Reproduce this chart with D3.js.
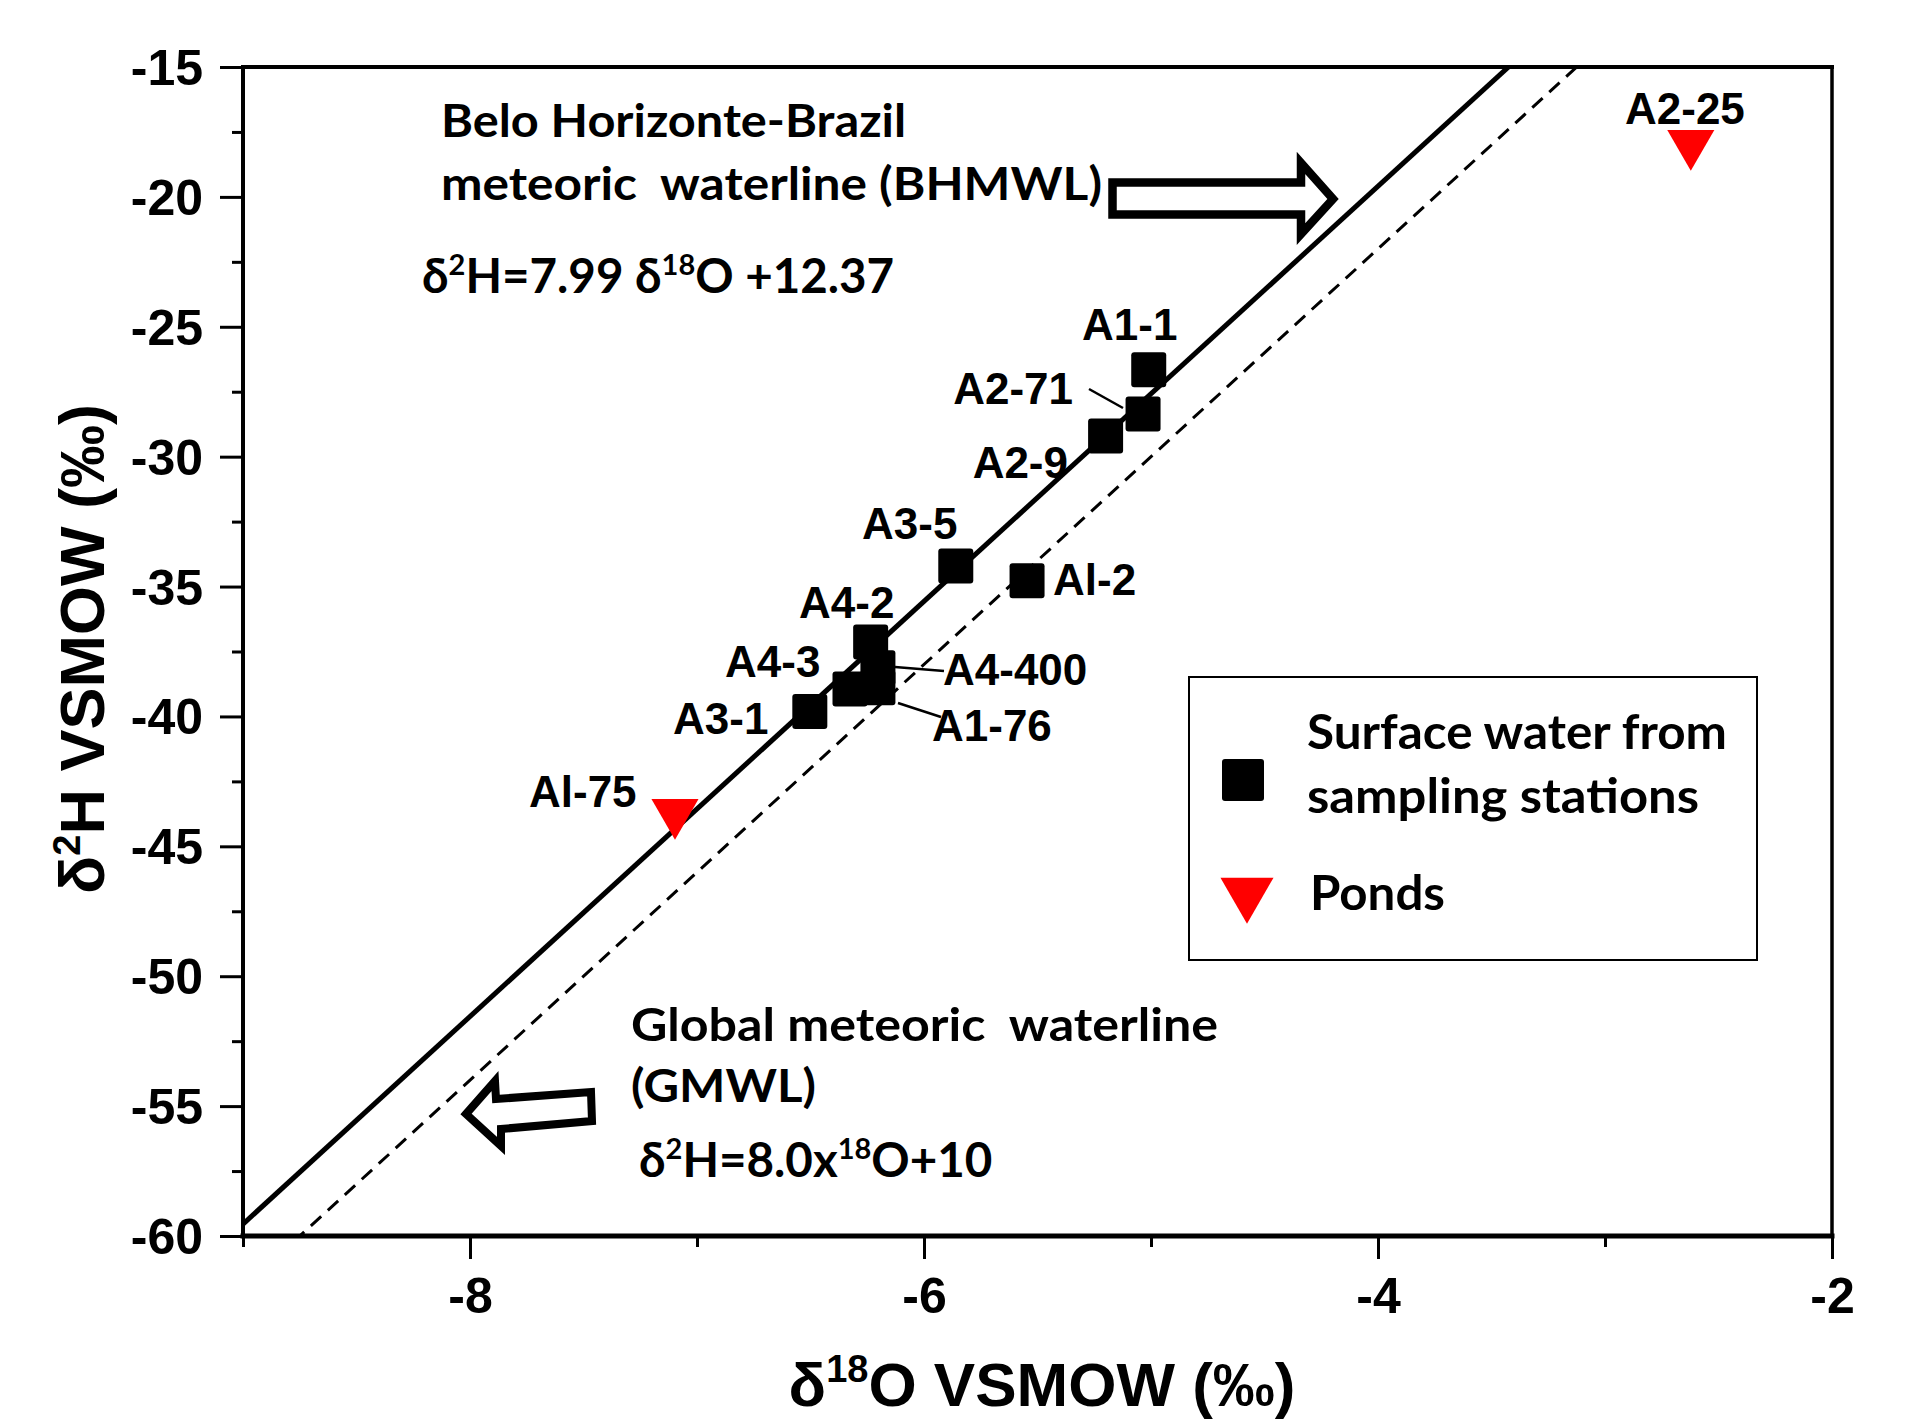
<!DOCTYPE html>
<html><head><meta charset="utf-8">
<script src="https://cdn.jsdelivr.net/npm/d3@7"></script>
<style>
html,body{margin:0;padding:0;background:#fff;}
svg{display:block;}
</style></head>
<body>
<svg id="chart" width="1909" height="1422"></svg>
<script>
// ---- data ----
const stationNames = ["A1-1","A2-71","A2-9","A3-5","Al-2","A4-2","A4-400","A4-3","A1-76","A3-1"];
const stationD18O  = [-5.01,-5.035,-5.20,-5.86,-5.546,-6.235,-6.203,-6.326,-6.203,-6.503];
const stationD2H   = [-26.65,-28.36,-29.2,-34.21,-34.78,-37.13,-38.13,-38.94,-38.90,-39.81];
const pondNames = ["Al-75","A2-25"];
const pondD18O  = [-7.097,-2.622];
const pondD2H   = [-43.70,-17.95];
const xTicks = [-8,-6,-4,-2];
const xMinorTicks = [-9,-7,-5,-3];
const yTicks = [-15,-20,-25,-30,-35,-40,-45,-50,-55,-60];
const yMinorTicks = [-17.5,-22.5,-27.5,-32.5,-37.5,-42.5,-47.5,-52.5,-57.5];
const bhmwl = {slope:7.99, intercept:12.37};
const gmwl  = {slope:8.0,  intercept:10};

// ---- layout ----
const svg = d3.select("#chart");
const L = 243, R = 1832, T = 67, B = 1236;
const x = d3.scaleLinear().domain([-9,-2]).range([L,R]);
const y = d3.scaleLinear().domain([-60,-15]).range([B,T]);
const ARIAL = "'Liberation Sans', Arial, sans-serif";
const CAL = "Lato, 'Open Sans', sans-serif";
const fmt = d => String(d);   // plain hyphen-minus like the original

// clip for lines
svg.append("clipPath").attr("id","plotclip").append("rect")
  .attr("x",L).attr("y",T).attr("width",R-L).attr("height",B-T);

// meteoric water lines
function lineFor(p){
  const x0 = -9, x1 = -2;
  return d3.line()([[x(x0), y(p.slope*x0+p.intercept)],[x(x1), y(p.slope*x1+p.intercept)]]);
}
svg.append("path").attr("d",lineFor(gmwl)).attr("clip-path","url(#plotclip)")
  .attr("stroke","#000").attr("stroke-width",3).attr("stroke-dasharray","14,9").attr("fill","none");
svg.append("path").attr("d",lineFor(bhmwl)).attr("clip-path","url(#plotclip)")
  .attr("stroke","#000").attr("stroke-width",5).attr("fill","none");

// axes
const xAxis = d3.axisBottom(x).tickValues(xTicks).tickSize(23).tickFormat(fmt);
const xMinor = d3.axisBottom(x).tickValues(xMinorTicks).tickSize(11).tickFormat("");
const yAxis = d3.axisLeft(y).tickValues(yTicks).tickSize(23).tickFormat(fmt);
const yMinor = d3.axisLeft(y).tickValues(yMinorTicks).tickSize(11).tickFormat("");

function styleAxis(g){
  g.select(".domain").remove();
  g.selectAll(".tick line").attr("stroke","#000").attr("stroke-width",3);
  g.selectAll(".tick text").attr("fill","#000").attr("font-family",ARIAL)
    .attr("font-weight","bold").attr("font-size",50);
}
const gx = svg.append("g").attr("transform",`translate(0,${B})`).call(xAxis).call(styleAxis);
gx.selectAll(".tick text").attr("y",null).attr("dy",null).attr("transform","translate(0,77)");
svg.append("g").attr("transform",`translate(0,${B})`).call(xMinor).call(styleAxis);
const gy = svg.append("g").attr("transform",`translate(${L},0)`).call(yAxis).call(styleAxis);
gy.selectAll(".tick text").attr("x",-40).attr("dy","0.35em");
svg.append("g").attr("transform",`translate(${L},0)`).call(yMinor).call(styleAxis);

// frame
svg.append("line").attr("x1",L).attr("x2",R).attr("y1",T).attr("y2",T).attr("stroke","#000").attr("stroke-width",4).attr("stroke-linecap","square");
svg.append("line").attr("x1",R).attr("x2",R).attr("y1",T).attr("y2",B).attr("stroke","#000").attr("stroke-width",3.5).attr("stroke-linecap","square");
svg.append("line").attr("x1",L).attr("x2",L).attr("y1",T).attr("y2",B).attr("stroke","#000").attr("stroke-width",4).attr("stroke-linecap","square");
svg.append("line").attr("x1",L).attr("x2",R).attr("y1",B).attr("y2",B).attr("stroke","#000").attr("stroke-width",5).attr("stroke-linecap","square");

// axis titles
const xt = svg.append("text").attr("x",1042).attr("y",1406).attr("text-anchor","middle")
  .attr("font-family",ARIAL).attr("font-weight","bold").attr("font-size",62).attr("fill","#000");
xt.append("tspan").text("δ");
xt.append("tspan").attr("font-size",38).attr("dy",-24).text("18");
xt.append("tspan").attr("dy",24).text("O VSMOW (‰)");

const yt = svg.append("text").attr("transform","translate(104,649) rotate(-90)").attr("text-anchor","middle")
  .attr("font-family",ARIAL).attr("font-weight","bold").attr("font-size",63).attr("fill","#000");
yt.append("tspan").text("δ");
yt.append("tspan").attr("font-size",38).attr("dy",-24).text("2");
yt.append("tspan").attr("dy",24).text("H VSMOW (‰)");

// leader lines
const leaders = [[1089,389,1123,408],[895,667,944,671],[898,703,941,717]];
svg.selectAll(".leader").data(leaders).enter().append("line")
  .attr("x1",d=>d[0]).attr("y1",d=>d[1]).attr("x2",d=>d[2]).attr("y2",d=>d[3])
  .attr("stroke","#000").attr("stroke-width",2.5);

// station markers
const stations = stationNames.map((n,i)=>({name:n, x:stationD18O[i], y:stationD2H[i]}));
const SQ = 35;
svg.selectAll(".sq").data(stations).enter().append("rect")
  .attr("x",d=>x(d.x)-SQ/2).attr("y",d=>y(d.y)-SQ/2).attr("width",SQ).attr("height",SQ)
  .attr("rx",3).attr("fill","#000");

// pond markers
const ponds = pondNames.map((n,i)=>({name:n, x:pondD18O[i], y:pondD2H[i]}));
const tri = d3.symbol().type(d3.symbolTriangle).size(960);
svg.selectAll(".tri").data(ponds).enter().append("path")
  .attr("d",tri).attr("transform",d=>`translate(${x(d.x)},${y(d.y)}) rotate(180)`)
  .attr("fill","#ff0000");

// point labels (label placement in pixels)
const labelPos = {
  "A1-1":[1082,340,"start"], "A2-71":[1073,404,"end"], "A2-9":[1068,478,"end"],
  "A3-5":[862,539,"start"], "Al-2":[1053,595,"start"], "A4-2":[799,618,"start"],
  "A4-3":[725,677,"start"], "A4-400":[943,685,"start"], "A1-76":[932,741,"start"],
  "A3-1":[673,734,"start"], "Al-75":[529,807,"start"], "A2-25":[1625,124,"start"]
};
const allNames = stationNames.concat(pondNames);
svg.selectAll(".lbl").data(allNames).enter().append("text")
  .attr("x",d=>labelPos[d][0]).attr("y",d=>labelPos[d][1]).attr("text-anchor",d=>labelPos[d][2])
  .attr("font-family",ARIAL).attr("font-weight","bold").attr("font-size",44).attr("fill","#000")
  .text(d=>d);

// annotations
function calText(tx,ty,str,len,size){
  const t = svg.append("text").attr("x",tx).attr("y",ty).attr("font-family",CAL)
    .attr("font-weight","bold").attr("font-size",size||46).attr("fill","#000")
    .attr("xml:space","preserve").style("white-space","pre").text(str);
  if(len) t.attr("textLength",len).attr("lengthAdjust","spacingAndGlyphs");
  return t;
}
calText(441,137,"Belo Horizonte-Brazil",465);
calText(441,200,"meteoric  waterline (BHMWL)",661);
{
  const t = svg.append("text").attr("x",422).attr("y",293).attr("font-family",CAL)
    .attr("font-weight","bold").attr("font-size",47.5).attr("fill","#000");
  t.append("tspan").text("δ");
  t.append("tspan").attr("font-size",29).attr("dy",-18).text("2");
  t.append("tspan").attr("dy",18).text("H=7.99 δ");
  t.append("tspan").attr("font-size",29).attr("dy",-18).text("18");
  t.append("tspan").attr("dy",18).text("O +12.37");
}
calText(631,1041,"Global meteoric  waterline",587);
calText(631,1102,"(GMWL)",185);
{
  const t = svg.append("text").attr("x",639).attr("y",1177).attr("font-family",CAL)
    .attr("font-weight","bold").attr("font-size",47.5).attr("fill","#000");
  t.append("tspan").text("δ");
  t.append("tspan").attr("font-size",29).attr("dy",-18).text("2");
  t.append("tspan").attr("dy",18).text("H=8.0x");
  t.append("tspan").attr("font-size",29).attr("dy",-18).text("18");
  t.append("tspan").attr("dy",18).text("O+10");
}

// block arrows
svg.append("path")
  .attr("d","M1112.5,182.5 L1301,182.5 L1301,163 L1333,199 L1301,234 L1301,214.5 L1112.5,214.5 Z")
  .attr("fill","#fff").attr("stroke","#000").attr("stroke-width",8.5).attr("stroke-linejoin","miter");
svg.append("path")
  .attr("d","M466,1114 L495,1081 L496,1099 L591,1092 L592,1121 L501,1129 L501,1146 Z")
  .attr("fill","#fff").attr("stroke","#000").attr("stroke-width",8).attr("stroke-linejoin","miter");

// legend
svg.append("rect").attr("x",1189).attr("y",677).attr("width",568).attr("height",283)
  .attr("fill","#fff").attr("stroke","#000").attr("stroke-width",2);
svg.append("rect").attr("x",1222).attr("y",759).attr("width",42).attr("height",42).attr("rx",3).attr("fill","#000");
svg.append("path").attr("d",d3.symbol().type(d3.symbolTriangle).size(1220))
  .attr("transform","translate(1247,893) rotate(180)").attr("fill","#ff0000");
calText(1307,749,"Surface water from",420,47);
calText(1307,813,"sampling stations",392,47);
calText(1310,910,"Ponds",135,47);
</script>
</body></html>
